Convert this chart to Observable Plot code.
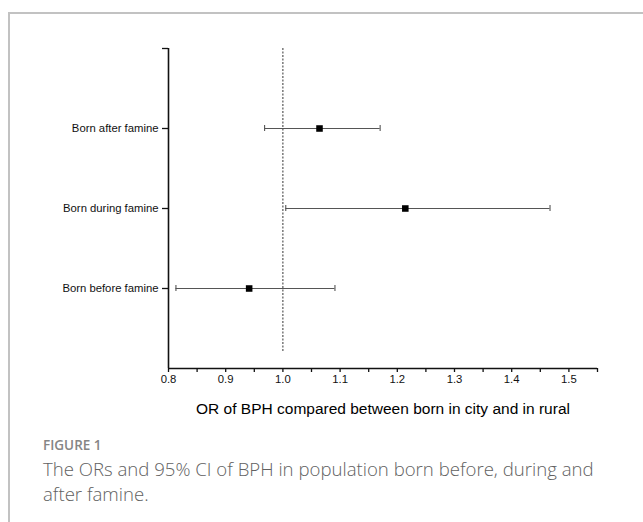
<!DOCTYPE html>
<html>
<head>
<meta charset="utf-8">
<script src="https://cdn.jsdelivr.net/npm/d3@7"></script>
<script src="https://cdn.jsdelivr.net/npm/@observablehq/plot@0.6"></script>
<style>
  html, body { margin: 0; padding: 0; background: #fff; width: 643px; height: 522px; overflow: hidden; }
  #frame { position: absolute; left: 8px; top: 12px; right: -10px; bottom: -10px; border-top: 2px solid #c2c2c2; border-left: 2px solid #c2c2c2; }
  #chart { position: absolute; left: 0; top: 0; }
  #figlabel { position: absolute; left: 43px; top: 435px; font-family: "Open Sans", sans-serif; font-size: 13.5px; font-weight: 600; color: #858585; line-height: 20px; }
  #figtitle { position: absolute; left: 43px; top: 457px; width: 580px; font-family: "Open Sans", sans-serif; font-size: 18.6px; font-weight: 300; color: #616161; line-height: 24.5px; }
</style>
</head>
<body>
<div id="frame"></div>
<div id="chart"></div>
<div id="figlabel">FIGURE 1</div>
<div id="figtitle">The ORs and 95% CI of BPH in population born before, during and after famine.</div>
<script>
const groups = ["Born before famine", "Born during famine", "Born after famine"];
const orValues = [0.941, 1.214, 1.064];
const lowerCI = [0.813, 1.005, 0.968];
const upperCI = [1.091, 1.467, 1.170];
const xMajorTicks = [0.8, 0.9, 1.0, 1.1, 1.2, 1.3, 1.4, 1.5];
const xMinorTicks = [0.85, 0.95, 1.05, 1.15, 1.25, 1.35, 1.45, 1.55];
const xTitle = "OR of BPH compared between born in city and in rural";
const xDomain = [0.8, 1.55];
const yDomain = [0, 4];
const refValue = 1.0;

const rows = groups.map((g, i) => ({group: g, pos: i + 1, or: orValues[i], lo: lowerCI[i], hi: upperCI[i]}));
const yLabel = new Map(rows.map(r => [r.pos, r.group]));

const plot = Plot.plot({
  width: 643,
  height: 430,
  marginLeft: 168,
  marginRight: 46,
  marginTop: 48,
  marginBottom: 62,
  style: {fontFamily: "'Liberation Sans', Arial, sans-serif", fontSize: "11.3px", color: "#111", background: "transparent", overflow: "visible"},
  x: {domain: xDomain},
  y: {domain: yDomain},
  marks: [
    Plot.ruleX([refValue], {x: d => d, y1: yDomain[1], y2: 0.2, stroke: "#333", strokeWidth: 1, strokeDasharray: "2,1.5"}),
    Plot.ruleY(rows, {y: "pos", x1: "lo", x2: "hi", stroke: "#555", strokeWidth: 1.1}),
    Plot.ruleX(rows, {x: "lo", y1: "pos", y2: "pos", insetTop: -3, insetBottom: -3, stroke: "#555", strokeWidth: 1.1}),
    Plot.ruleX(rows, {x: "hi", y1: "pos", y2: "pos", insetTop: -3, insetBottom: -3, stroke: "#555", strokeWidth: 1.1}),
    Plot.dot(rows, {x: "or", y: "pos", symbol: "square", r: 3.7, fill: "#000", stroke: "none"}),
    Plot.ruleX([xDomain[0]], {x: d => d, y1: yDomain[0], y2: yDomain[1], stroke: "#111", strokeWidth: 1.6}),
    Plot.ruleY([yDomain[0]], {y: d => d, x1: xDomain[0], x2: xDomain[1], stroke: "#111", strokeWidth: 1.6}),
    Plot.axisX({ticks: xMajorTicks, tickSize: 4, tickPadding: 2, tickFormat: d3.format(".1f"), stroke: "#111", strokeWidth: 1.3, label: xTitle, labelAnchor: "center", labelArrow: "none", labelOffset: 45, fontSize: 11.3}),
    Plot.axisX({ticks: xMinorTicks, tickSize: 4, tickFormat: () => "", stroke: "#111", strokeWidth: 1.3, label: null}),
    Plot.axisY({ticks: [1, 2, 3, 4], tickSize: 6, tickPadding: 4, tickFormat: d => yLabel.get(d) || "", stroke: "#111", strokeWidth: 1.3, label: null, fontSize: 11.3})
  ]
});
document.getElementById("chart").appendChild(plot);
plot.querySelectorAll("g[aria-label='x-axis label'] text").forEach(t => { t.style.fontSize = "15.5px"; t.setAttribute("fill", "#000"); });
</script>
</body>
</html>
